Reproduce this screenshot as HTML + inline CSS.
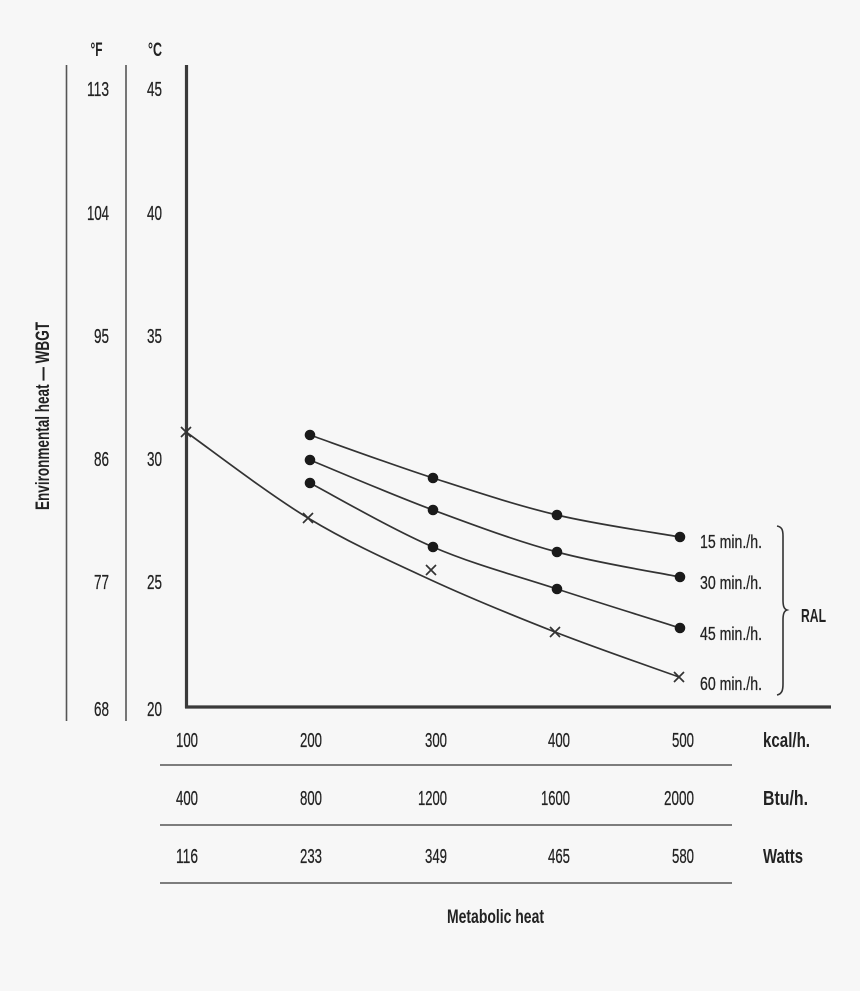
<!DOCTYPE html>
<html>
<head>
<meta charset="utf-8">
<style>
  html, body { margin:0; padding:0; background:#f7f7f7; }
  svg { display:block; }
  text { font-family: "Liberation Sans", sans-serif; fill:#222; }
  .r { stroke:#222; stroke-width:0.25; }
  .b { font-weight:bold; }
</style>
</head>
<body>
<svg width="860" height="991" viewBox="0 0 860 991" xmlns="http://www.w3.org/2000/svg">
  <rect x="0" y="0" width="860" height="991" fill="#f7f7f7"/>

  <!-- scale lines -->
  <line x1="66.5" y1="65" x2="66.5" y2="721" stroke="#555" stroke-width="1.6"/>
  <line x1="126" y1="65" x2="126" y2="721" stroke="#555" stroke-width="1.6"/>
  <!-- main axes -->
  <line x1="186.5" y1="65" x2="186.5" y2="708" stroke="#3a3a3a" stroke-width="3.2"/>
  <line x1="185" y1="707" x2="831" y2="707" stroke="#3a3a3a" stroke-width="3.2"/>

  <!-- headers -->
  <text class="b" x="96.5" y="56" font-size="19" text-anchor="middle" textLength="12" lengthAdjust="spacingAndGlyphs">°F</text>
  <text class="b" x="155" y="56" font-size="19" text-anchor="middle" textLength="14" lengthAdjust="spacingAndGlyphs">°C</text>

  <!-- F labels -->
  <g font-size="20" text-anchor="end" class="r">
    <text x="109" y="96" textLength="22" lengthAdjust="spacingAndGlyphs">113</text>
    <text x="109" y="220" textLength="22" lengthAdjust="spacingAndGlyphs">104</text>
    <text x="109" y="343" textLength="15" lengthAdjust="spacingAndGlyphs">95</text>
    <text x="109" y="466" textLength="15" lengthAdjust="spacingAndGlyphs">86</text>
    <text x="109" y="589" textLength="15" lengthAdjust="spacingAndGlyphs">77</text>
    <text x="109" y="716" textLength="15" lengthAdjust="spacingAndGlyphs">68</text>
  </g>
  <!-- C labels -->
  <g font-size="20" text-anchor="end" class="r">
    <text x="162" y="96" textLength="15" lengthAdjust="spacingAndGlyphs">45</text>
    <text x="162" y="220" textLength="15" lengthAdjust="spacingAndGlyphs">40</text>
    <text x="162" y="343" textLength="15" lengthAdjust="spacingAndGlyphs">35</text>
    <text x="162" y="466" textLength="15" lengthAdjust="spacingAndGlyphs">30</text>
    <text x="162" y="589" textLength="15" lengthAdjust="spacingAndGlyphs">25</text>
    <text x="162" y="716" textLength="15" lengthAdjust="spacingAndGlyphs">20</text>
  </g>

  <!-- Y title -->
  <text class="b" transform="translate(49,416) rotate(-90)" x="0" y="0" font-size="19" text-anchor="middle" textLength="188" lengthAdjust="spacingAndGlyphs">Environmental heat — WBGT</text>

  <!-- curves -->
  <g fill="none" stroke="#333" stroke-width="1.7">
    <path d="M310,435 C330.5,442.2 391.8,464.7 433,478 C474.2,491.3 515.8,505.2 557,515 C598.2,524.8 659.5,533.3 680,537"/>
    <path d="M310,460 C330.5,468.3 391.8,494.7 433,510 C474.2,525.3 515.8,540.8 557,552 C598.2,563.2 659.5,572.8 680,577"/>
    <path d="M310,483 C330.5,493.7 391.8,529.3 433,547 C474.2,564.7 515.8,575.5 557,589 C598.2,602.5 659.5,621.5 680,628"/>
    <path d="M186,432 C206.3,446.3 267.2,493.3 308,518 C348.8,542.7 389.8,561 431,580 C472.2,599 513.7,615.8 555,632 C596.3,648.2 658.3,669.5 679,677"/>
  </g>

  <!-- dots -->
  <g fill="#1a1a1a">
    <circle cx="310" cy="435" r="5.3"/>
    <circle cx="433" cy="478" r="5.3"/>
    <circle cx="557" cy="515" r="5.3"/>
    <circle cx="680" cy="537" r="5.3"/>
    <circle cx="310" cy="460" r="5.3"/>
    <circle cx="433" cy="510" r="5.3"/>
    <circle cx="557" cy="552" r="5.3"/>
    <circle cx="680" cy="577" r="5.3"/>
    <circle cx="310" cy="483" r="5.3"/>
    <circle cx="433" cy="547" r="5.3"/>
    <circle cx="557" cy="589" r="5.3"/>
    <circle cx="680" cy="628" r="5.3"/>
  </g>

  <!-- x markers -->
  <g stroke="#333" stroke-width="1.7" fill="none">
    <path d="M181,427 L191,437 M191,427 L181,437"/>
    <path d="M303,513 L313,523 M313,513 L303,523"/>
    <path d="M426,565 L436,575 M436,565 L426,575"/>
    <path d="M550,627 L560,637 M560,627 L550,637"/>
    <path d="M674,672 L684,682 M684,672 L674,682"/>
  </g>

  <!-- legend labels -->
  <g font-size="18" class="r">
    <text x="700" y="548" textLength="62" lengthAdjust="spacingAndGlyphs">15 min./h.</text>
    <text x="700" y="589" textLength="62" lengthAdjust="spacingAndGlyphs">30 min./h.</text>
    <text x="700" y="640" textLength="62" lengthAdjust="spacingAndGlyphs">45 min./h.</text>
    <text x="700" y="690" textLength="62" lengthAdjust="spacingAndGlyphs">60 min./h.</text>
  </g>
  <!-- brace -->
  <path d="M777,526 C782,527 783,530 783,536 L783,600 C783,606 784,609 787,610 C784,611 783,614 783,620 L783,684 C783,690 782,694 777,695" fill="none" stroke="#333" stroke-width="1.6"/>
  <text class="b" x="801" y="622" font-size="18" textLength="25" lengthAdjust="spacingAndGlyphs">RAL</text>

  <!-- bottom table -->
  <g stroke="#555" stroke-width="1.6">
    <line x1="160" y1="765" x2="732" y2="765"/>
    <line x1="160" y1="825" x2="732" y2="825"/>
    <line x1="160" y1="883" x2="732" y2="883"/>
  </g>
  <g font-size="20" text-anchor="end" class="r">
    <text x="198" y="747" textLength="22" lengthAdjust="spacingAndGlyphs">100</text>
    <text x="322" y="747" textLength="22" lengthAdjust="spacingAndGlyphs">200</text>
    <text x="447" y="747" textLength="22" lengthAdjust="spacingAndGlyphs">300</text>
    <text x="570" y="747" textLength="22" lengthAdjust="spacingAndGlyphs">400</text>
    <text x="694" y="747" textLength="22" lengthAdjust="spacingAndGlyphs">500</text>

    <text x="198" y="805" textLength="22" lengthAdjust="spacingAndGlyphs">400</text>
    <text x="322" y="805" textLength="22" lengthAdjust="spacingAndGlyphs">800</text>
    <text x="447" y="805" textLength="29" lengthAdjust="spacingAndGlyphs">1200</text>
    <text x="570" y="805" textLength="29" lengthAdjust="spacingAndGlyphs">1600</text>
    <text x="694" y="805" textLength="30" lengthAdjust="spacingAndGlyphs">2000</text>

    <text x="198" y="863" textLength="22" lengthAdjust="spacingAndGlyphs">116</text>
    <text x="322" y="863" textLength="22" lengthAdjust="spacingAndGlyphs">233</text>
    <text x="447" y="863" textLength="22" lengthAdjust="spacingAndGlyphs">349</text>
    <text x="570" y="863" textLength="22" lengthAdjust="spacingAndGlyphs">465</text>
    <text x="694" y="863" textLength="22" lengthAdjust="spacingAndGlyphs">580</text>
  </g>
  <g font-size="20">
    <text class="b" x="763" y="747" textLength="47" lengthAdjust="spacingAndGlyphs">kcal/h.</text>
    <text class="b" x="763" y="805" textLength="45" lengthAdjust="spacingAndGlyphs">Btu/h.</text>
    <text class="b" x="763" y="863" textLength="40" lengthAdjust="spacingAndGlyphs">Watts</text>
  </g>
  <text class="b" x="495.5" y="923" font-size="19" text-anchor="middle" textLength="97" lengthAdjust="spacingAndGlyphs">Metabolic heat</text>
</svg>
</body>
</html>
